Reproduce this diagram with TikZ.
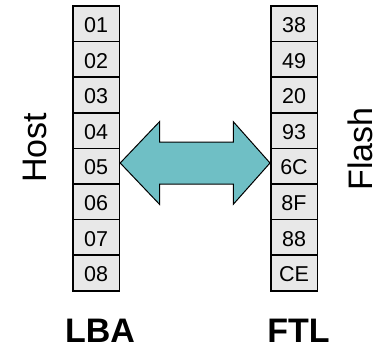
\documentclass[tikz,border=0pt]{standalone}
\usepackage{fontspec}
\setmainfont{Liberation Sans}
\definecolor{cellgray}{HTML}{E8E8E8}
\definecolor{arrowteal}{HTML}{6FBFC5}
\tikzset{
  cell/.style={draw=black, line width=1.5pt, fill=cellgray, minimum width=46.5pt, minimum height=35.6pt,
    inner sep=0pt, text height=17.4pt, text depth=0pt, font=\fontsize{21.5}{25}\selectfont},
  side/.style={rotate=90, anchor=base, inner sep=0pt, font=\fontsize{34}{40}\selectfont},
  caption/.style={anchor=base, inner sep=0pt, font=\fontsize{34}{40}\selectfont\bfseries},
  bigarrow/.style={draw=black, line width=1pt, fill=arrowteal, line join=miter}
}
\begin{document}
\begin{tikzpicture}[x=1pt,y=-1pt]
\useasboundingbox (0,0) rectangle (383,348);
% left column
\foreach \t [count=\i] in {01,02,03,04,05,06,07,08} {
  \node[cell] (l\i) at (96.2, {6+35.6*(\i-0.5)}) {\t};
}
\foreach \t [count=\i] in {38,49,20,93,6C,8F,88,CE} {
  \node[cell] (r\i) at (294, {6+35.6*(\i-0.5)}) {\t};
}
% double arrow
\coordinate (tl) at (l5.east |- 0,163);
\coordinate (tr) at (r5.west |- 0,163);
\draw[bigarrow] (tl) -- (159.5,121.7) -- (159.5,142) -- (233.3,142) -- (233.3,121.7)
  -- (tr) -- (233.3,204.3) -- (233.3,184) -- (159.5,184) -- (159.5,204.3) -- cycle;
% labels
\node[side] (host) at (46,148) {Host};
\node[side] (flash) at (372,149) {Flash};
\node[caption] (lba) at (100,342) {LBA};
\node[caption] (ftl) at (298.5,342) {FTL};
\end{tikzpicture}
\end{document}
